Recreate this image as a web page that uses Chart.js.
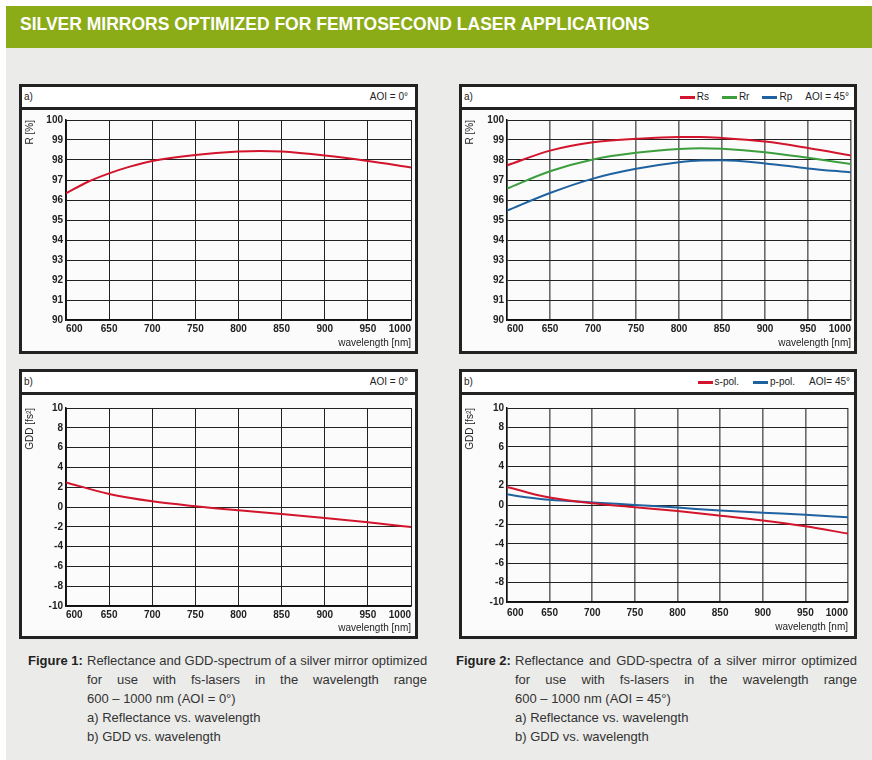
<!DOCTYPE html>
<html><head><meta charset="utf-8">
<script src="https://cdn.jsdelivr.net/npm/chart.js@4.4.0/dist/chart.umd.min.js"></script>
<style>
html,body{margin:0;padding:0;}
body{width:872px;height:760px;position:relative;background:#fff;overflow:hidden;font-family:"Liberation Sans",Arial,sans-serif;}
#bg{position:absolute;left:6px;top:48px;width:866px;height:712px;background:#ebebe9;}
#banner{position:absolute;left:6px;top:6px;width:866px;height:42px;background:#8bab17;}
#banner span{position:absolute;left:14px;top:8px;line-height:20px;color:#fff;font-weight:bold;font-size:17.5px;white-space:nowrap;}
.panel{position:absolute;box-sizing:border-box;border:3px solid #222;background:#fbfbfb;}
.phead{position:absolute;left:0;top:0;right:0;height:20px;border-bottom:3px solid #222;background:#fff;font-size:10px;line-height:20px;color:#222;}
.phead .lab{position:absolute;left:2px;top:0;}
.phead .leg{position:absolute;top:0;display:flex;align-items:center;height:20px;white-space:nowrap;}
.leg .item{display:flex;align-items:center;}
.leg .dash{display:inline-block;width:15px;height:3px;margin-right:2px;}
.panel canvas{position:absolute;left:0;top:23px;}
.cap{position:absolute;font-size:13px;line-height:19px;color:#333;}
.cap .fig{position:absolute;left:0;top:0;font-weight:bold;color:#222;white-space:nowrap;}
.cap .txt{position:absolute;top:0;}
.cap .j{text-align:justify;text-align-last:justify;white-space:nowrap;}
.cap .l{white-space:nowrap;}
</style></head>
<body>
<div id="bg"></div>
<div id="banner"><span>SILVER MIRRORS OPTIMIZED FOR FEMTOSECOND LASER APPLICATIONS</span></div>

<div class="panel" style="left:19px;top:84px;width:399px;height:270px;">
  <div class="phead"><span class="lab">a)</span><div class="leg" id="leg1" style="right:7px;"></div></div>
  <canvas id="c1" width="393" height="241"></canvas>
</div>
<div class="panel" style="left:459px;top:84px;width:398px;height:270px;">
  <div class="phead"><span class="lab">a)</span><div class="leg" id="leg2" style="right:5px;"></div></div>
  <canvas id="c2" width="392" height="241"></canvas>
</div>
<div class="panel" style="left:19px;top:369px;width:399px;height:270px;">
  <div class="phead"><span class="lab">b)</span><div class="leg" id="leg3" style="right:7px;"></div></div>
  <canvas id="c3" width="393" height="241"></canvas>
</div>
<div class="panel" style="left:459px;top:369px;width:398px;height:270px;">
  <div class="phead"><span class="lab">b)</span><div class="leg" id="leg4" style="right:4px;"></div></div>
  <canvas id="c4" width="392" height="241"></canvas>
</div>

<div class="cap" style="left:28px;top:651px;">
  <span class="fig">Figure 1:</span>
  <div class="txt" style="left:59px;width:340px;">
    <div class="j">Reflectance and GDD-spectrum of a silver mirror optimized</div>
    <div class="j">for use with fs-lasers in the wavelength range</div>
    <div class="l">600 – 1000 nm (AOI = 0°)</div>
    <div class="l">a) Reflectance vs. wavelength</div>
    <div class="l">b) GDD vs. wavelength</div>
  </div>
</div>
<div class="cap" style="left:456px;top:651px;">
  <span class="fig">Figure 2:</span>
  <div class="txt" style="left:59px;width:342px;">
    <div class="j">Reflectance and GDD-spectra of a silver mirror optimized</div>
    <div class="j">for use with fs-lasers in the wavelength range</div>
    <div class="l">600 – 1000 nm (AOI = 45°)</div>
    <div class="l">a) Reflectance vs. wavelength</div>
    <div class="l">b) GDD vs. wavelength</div>
  </div>
</div>

<script>
// ---- data ----
const wavelengthR0 = [600, 625, 650, 675, 700, 750, 800, 825, 850, 900, 950, 1000];
const reflectance0 = [96.33, 96.9, 97.33, 97.68, 97.95, 98.25, 98.42, 98.45, 98.42, 98.22, 97.95, 97.63];

const wavelengthR45 = [600, 650, 700, 750, 800, 825, 850, 900, 950, 1000];
const rs45 = [97.73, 98.47, 98.89, 99.06, 99.15, 99.15, 99.1, 98.92, 98.6, 98.23];
const rr45 = [96.57, 97.44, 98.03, 98.36, 98.55, 98.59, 98.56, 98.39, 98.11, 97.8];
const rp45 = [95.47, 96.35, 97.07, 97.56, 97.89, 97.98, 97.99, 97.83, 97.58, 97.38];

const wavelengthG0 = [600, 650, 700, 750, 800, 850, 900, 950, 1000];
const gdd0 = [2.49, 1.31, 0.57, 0.07, -0.34, -0.71, -1.11, -1.55, -2.02];

const wavelengthG45 = [600, 625, 650, 700, 750, 800, 850, 900, 950, 1000];
const gddS45 = [1.87, 1.27, 0.77, 0.17, -0.23, -0.63, -1.1, -1.6, -2.2, -2.95];
const gddP45 = [1.1, 0.78, 0.53, 0.27, 0.0, -0.27, -0.57, -0.8, -1.0, -1.27];

const xMin = 600, xMax = 1000, xStep = 50;
const rMin = 90, rMax = 100, rStep = 1;
const gMin = -10, gMax = 10, gStep = 2;

const RED = '#d2142c', GREEN = '#3c9e3c', BLUE = '#1f62a0';

Chart.defaults.font.family = '"Liberation Sans", Arial, sans-serif';
Chart.defaults.color = '#222';

function pts(xs, ys){ return xs.map((x, i) => ({x: x, y: ys[i]})); }

function makeChart(id, datasets, cfg){
  const el = document.getElementById(id);
  return new Chart(el, {
    type: 'line',
    data: { datasets: datasets.map(d => ({
      label: d.label, data: d.data, borderColor: d.color, backgroundColor: d.color,
      borderWidth: 2, pointRadius: 0, tension: 0.4, cubicInterpolationMode: 'monotone', fill: false
    })) },
    options: {
      responsive: false, animation: false, events: [],
      layout: { padding: { top: cfg.padTop, right: cfg.padRight, left: 0, bottom: 0 } },
      plugins: { legend: { display: false }, tooltip: { enabled: false } },
      scales: {
        x: {
          type: 'linear', min: xMin, max: xMax,
          afterFit: s => { s.height = cfg.xH; },
          ticks: { stepSize: xStep, align: 'inner', maxRotation: 0, autoSkip: false, padding: cfg.xPad,
                   callback: v => String(v),
                   font: { size: 10, weight: 'bold' }, color: '#222' },
          grid: { color: cfg.xGridColor, lineWidth: cfg.xGridWidth, drawTicks: false },
          border: { display: true, color: '#111', width: 1.5 },
          title: { display: true, text: 'wavelength [nm]', align: 'end', font: { size: 10 }, color: '#222',
                   padding: { top: 0, bottom: cfg.xTitlePad } }
        },
        y: {
          type: 'linear', min: cfg.yMin, max: cfg.yMax,
          afterFit: s => { s.width = cfg.yW; },
          ticks: { stepSize: cfg.yStep, padding: 3, callback: v => String(v),
                   font: { size: 10, weight: 'bold' }, color: '#222' },
          grid: { color: '#222', lineWidth: 1, drawTicks: false },
          border: { display: true, color: '#111', width: 1.5 },
          title: { display: true, text: cfg.yTitle, align: 'end', font: { size: 10 }, color: '#222',
                   padding: { top: 2, bottom: 0 } }
        }
      }
    }
  });
}

function buildLegend(id, chart, aoiText, gap){
  const box = document.getElementById(id);
  chart.data.datasets.forEach(ds => {
    if (!ds.label) return;
    const it = document.createElement('span'); it.className = 'item'; it.style.marginRight = gap;
    const d = document.createElement('span'); d.className = 'dash'; d.style.background = ds.borderColor;
    const t = document.createElement('span'); t.textContent = ds.label;
    it.appendChild(d); it.appendChild(t); box.appendChild(it);
  });
  const a = document.createElement('span'); a.textContent = aoiText; box.appendChild(a);
}

const c1 = makeChart('c1', [{label: '', data: pts(wavelengthR0, reflectance0), color: RED}],
  {padTop: 10, padRight: 4, xH: 31, yW: 44, xPad: 3, xTitlePad: 2, yMin: rMin, yMax: rMax, yStep: rStep,
   yTitle: 'R [%]', xGridColor: '#222', xGridWidth: 1});
const c2 = makeChart('c2', [
    {label: 'Rs', data: pts(wavelengthR45, rs45), color: RED},
    {label: 'Rr', data: pts(wavelengthR45, rr45), color: GREEN},
    {label: 'Rp', data: pts(wavelengthR45, rp45), color: BLUE}],
  {padTop: 10, padRight: 3, xH: 31, yW: 45, xPad: 3, xTitlePad: 2, yMin: rMin, yMax: rMax, yStep: rStep,
   yTitle: 'R [%]', xGridColor: '#6a6a6a', xGridWidth: 1.6});
const c3 = makeChart('c3', [{label: '', data: pts(wavelengthG0, gdd0), color: RED}],
  {padTop: 13, padRight: 4, xH: 30, yW: 44, xPad: 3, xTitlePad: 2, yMin: gMin, yMax: gMax, yStep: gStep,
   yTitle: 'GDD [fs²]', xGridColor: '#222', xGridWidth: 1});
const c4 = makeChart('c4', [
    {label: 's-pol.', data: pts(wavelengthG45, gddS45), color: RED},
    {label: 'p-pol.', data: pts(wavelengthG45, gddP45), color: BLUE}],
  {padTop: 13, padRight: 6, xH: 34, yW: 45, xPad: 5, xTitlePad: 3, yMin: gMin, yMax: gMax, yStep: gStep,
   yTitle: 'GDD [fs²]', xGridColor: '#6a6a6a', xGridWidth: 1.6});

buildLegend('leg1', c1, 'AOI = 0°', '13px');
buildLegend('leg2', c2, 'AOI = 45°', '13px');
buildLegend('leg3', c3, 'AOI = 0°', '13px');
buildLegend('leg4', c4, 'AOI= 45°', '14px');
</script>
</body></html>
